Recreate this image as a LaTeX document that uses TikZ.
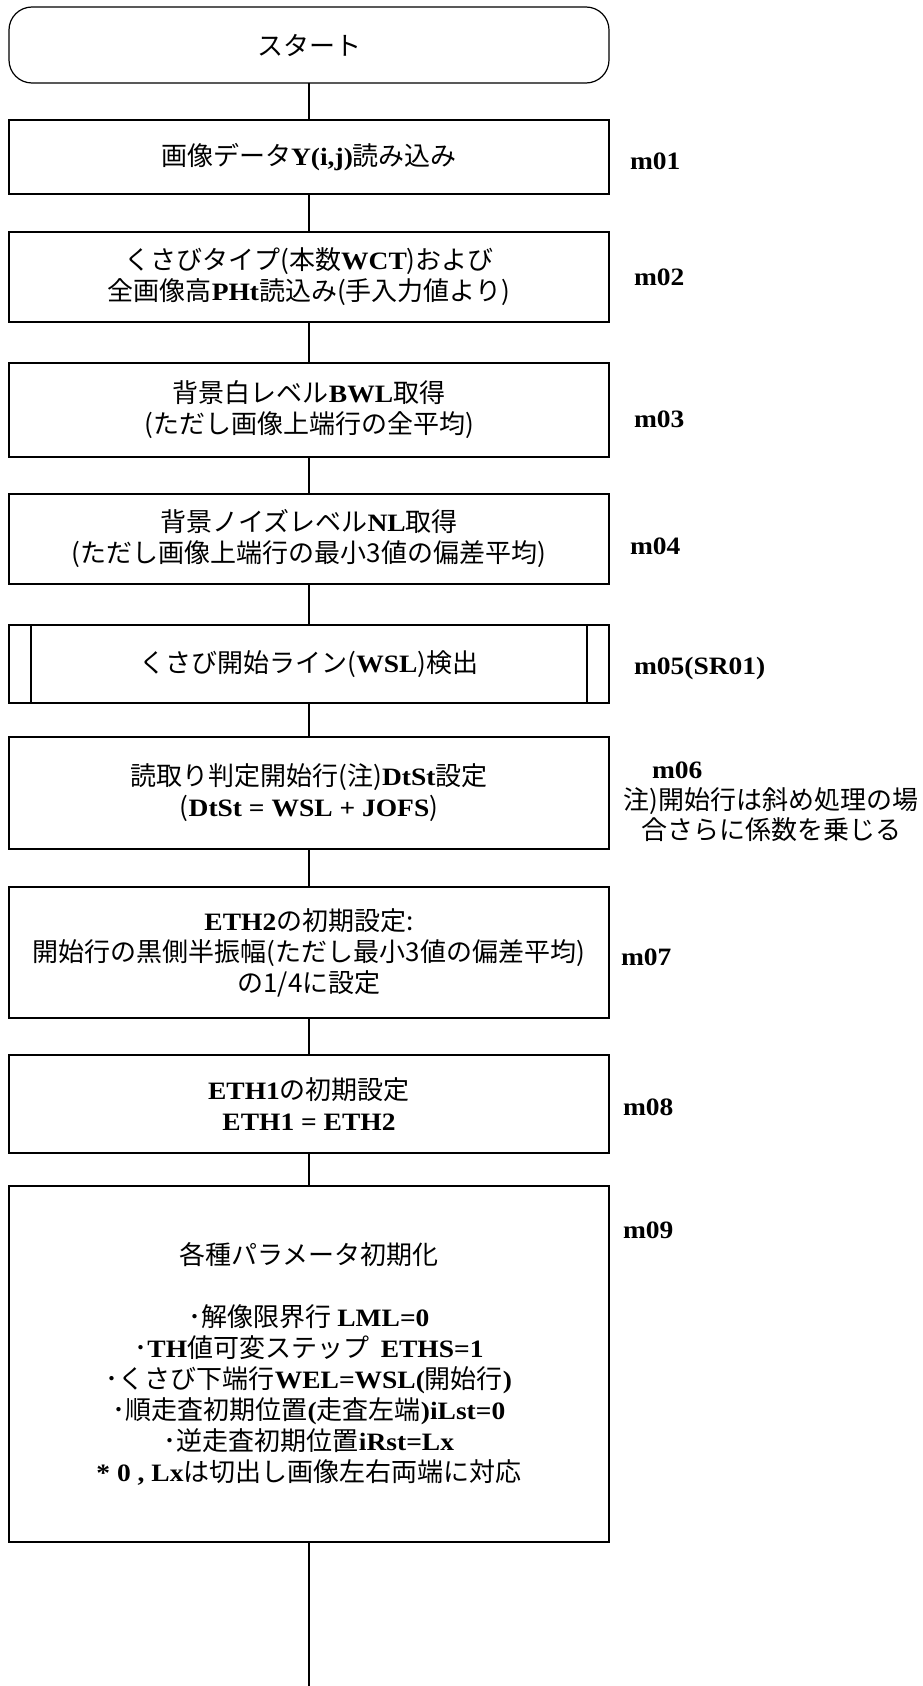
\documentclass[tikz,border=0pt]{standalone}
\usepackage{fontspec}
\setmainfont{Liberation Serif}[FakeStretch=1.1]
\newfontfamily\jpf{Noto Sans CJK JP}
\newcommand\J[1]{{\mdseries\jpf\fontsize{13}{15.5}\selectfont #1}}
\begin{document}
\begin{tikzpicture}[x=0.5pt,y=-0.5pt,
  every node/.style={font=\bfseries\fontsize{12.5}{15.5}\selectfont, inner sep=0pt, outer sep=0pt},
  procbox/.style={draw, line width=0.6pt, minimum width=300pt, align=center},
  termbox/.style={procbox, rounded corners=11.5pt},
  lbl/.style={anchor=west},
  conn/.style={line width=0.6pt}]
\useasboundingbox (0,0) rectangle (922,1686);
\node[termbox, minimum height=38pt] (start) at (309,45) {\J{スタート}};
\node[procbox, minimum height=37pt] (m01) at (309,157) {\J{画像データ}Y(i,j)\J{読み込み}};
\node[procbox, minimum height=45pt] (m02) at (309,277) {\J{くさびタイプ(本数}WCT\J{)および}\\\J{全画像高}PHt\J{読込み(手入力値より)}};
\node[procbox, minimum height=47pt] (m03) at (309,410) {\J{背景白レベル}BWL\J{取得}\\\J{(ただし画像上端行の全平均)}};
\node[procbox, minimum height=45pt] (m04) at (309,539) {\J{背景ノイズレベル}NL\J{取得}\\\J{(ただし画像上端行の最小3値の偏差平均)}};
\node[procbox, minimum height=39pt] (m05) at (309,664) {\J{くさび開始ライン(}WSL\J{)検出}};
\draw[conn] ([xshift=11pt]m05.north west) -- ([xshift=11pt]m05.south west);
\draw[conn] ([xshift=-11pt]m05.north east) -- ([xshift=-11pt]m05.south east);
\node[procbox, minimum height=56pt] (m06) at (309,793) {\J{読取り判定開始行(注)}DtSt\J{設定}\\\J{(}DtSt = WSL + JOFS\J{)}};
\node[procbox, minimum height=65.5pt] (m07) at (309,952.5) {ETH2\J{の初期設定:}\\\J{開始行の黒側半振幅(ただし最小3値の偏差平均)}\\\J{の1/4に設定}};
\node[procbox, minimum height=49pt] (m08) at (309,1104) {ETH1\J{の初期設定}\\ETH1 = ETH2};
\node[procbox, minimum height=178pt] (m09) at (309,1364) {\J{各種パラメータ初期化}\\[15.5pt]\J{･解像限界行 }LML=0\\\J{･}TH\J{値可変ステップ\ \ }ETHS=1\\\J{･くさび下端行}WEL=WSL(\J{開始行})\\\J{･順走査初期位置}(\J{走査左端})iLst=0\\\J{･逆走査初期位置}iRst=Lx\\* 0 , Lx\J{は切出し画像左右両端に対応}};
\coordinate (end) at (309,1686);
\draw[conn] (start) -- (m01);
\draw[conn] (m01) -- (m02);
\draw[conn] (m02) -- (m03);
\draw[conn] (m03) -- (m04);
\draw[conn] (m04) -- (m05);
\draw[conn] (m05) -- (m06);
\draw[conn] (m06) -- (m07);
\draw[conn] (m07) -- (m08);
\draw[conn] (m08) -- (m09);
\draw[conn] (m09) -- (end);
\node[lbl] (l01) at (630,161) {m01};
\node[lbl] (l02) at (634,277) {m02};
\node[lbl] (l03) at (634,419) {m03};
\node[lbl] (l04) at (630,546) {m04};
\node[lbl] (l05) at (634,668) {m05(SR01)};
\node[lbl] (l06) at (652,770) {m06};
\node[align=center, font=\mdseries\jpf\fontsize{13}{15}\selectfont] (note) at (771,815) {注)開始行は斜め処理の場\\合さらに係数を乗じる};
\node[lbl] (l07) at (621,957) {m07};
\node[lbl] (l08) at (623,1107) {m08};
\node[lbl] (l09) at (623,1230) {m09};
\end{tikzpicture}
\end{document}
